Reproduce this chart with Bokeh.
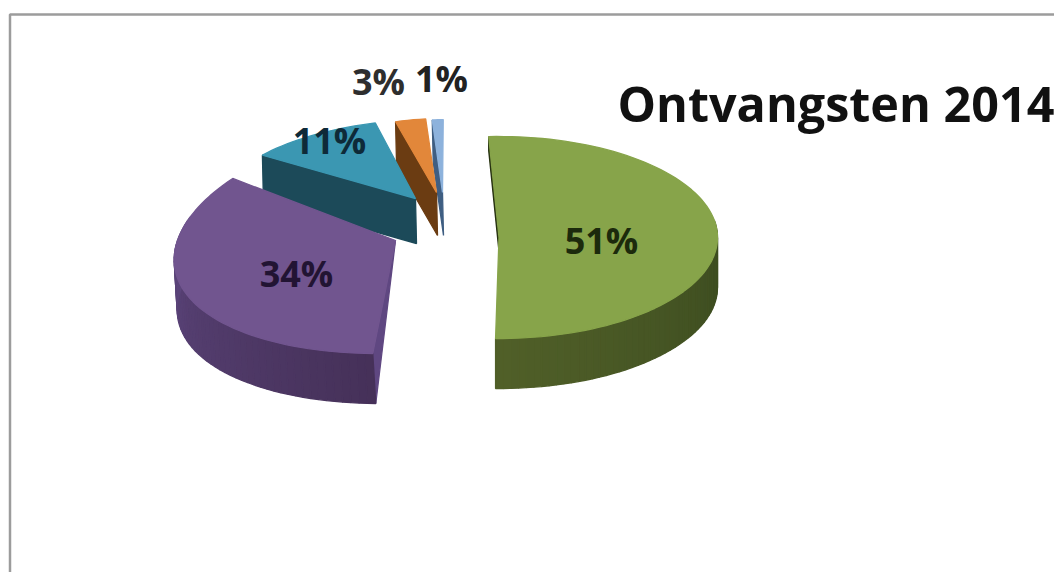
import math
from bokeh.plotting import figure
from bokeh.models import ColumnDataSource, Range1d
from bokeh.core.properties import value
from bokeh.embed import file_html
from bokeh.resources import INLINE

# data
title_text = "Ontvangsten 2014"
values = [51, 34, 11, 3, 1]
labels = ["51%", "34%", "11%", "3%", "1%"]

# styles
top_colors = ["#87a44a", "#71558f", "#3b97b2", "#e2873a", "#8db2dc"]
cut_colors = ["#26310f", "#5f4781", "#1c4a59", "#6b3c12", "#3f5e82"]
rim_colors = [("#3a4a1f", "#505f28"), ("#463159", "#5e477f"), ("#1c4a59", "#1c4a59"),
              ("#6b3c12", "#6b3c12"), ("#3f5e82", "#3f5e82")]
label_colors = ["#1c2a0c", "#221433", "#0e2a38", "#2e2e2e", "#222222"]

# layout in reference pixels: apex x, apex y, radius x, radius y, shear, depth x, depth y, taper
geom = [
    (498.5, 237, 218.5, 101, 0, 0, 50, 0),
    (395, 240, 218, 113, -19, 3, 50, 0.09),
    (415, 198, 195, 79, -18, 1, 45, 0),
    (436, 192, 162, 74, -7, 1, 43, 0),
    (442, 192, 175, 73, -9, 1, 43, 0),
]
label_pos = [(601, 240), (296, 273), (329, 140), (378, 81), (441, 78)]
START = -2.7
LABEL_SIZE = "36px"
TITLE_SIZE = "48.5px"
TITLE_POS = (617, 102)
W, H = 1054, 572


def pt(g, theta):
    ax, ay, rx, ry, sx, _, _, kx = g
    t = math.radians(theta)
    u, v = math.sin(t), -math.cos(t)
    return ax + rx * u * (1 + kx * v) + sx * v, ay + ry * v


def mix(c1, c2, f):
    a = [int(c1[i:i + 2], 16) for i in (1, 3, 5)]
    b = [int(c2[i:i + 2], 16) for i in (1, 3, 5)]
    return "#%02x%02x%02x" % tuple(round(x + (y - x) * f) for x, y in zip(a, b))


total = sum(values)
angles, a = [], START
for val in values:
    angles.append((a, a + 360 * val / total))
    a += 360 * val / total

polys = {"x": [], "y": [], "c": []}


def add(xs, ys, c):
    polys["x"].append(xs)
    polys["y"].append(ys)
    polys["c"].append(c)


# back slices first, so that nearer ones overlap them
for i in (4, 3, 2, 1, 0):
    g = geom[i]
    a0, a1 = angles[i]
    ax, ay, _, _, _, dx, dy, _ = g
    p0 = pt(g, a0)

    # cut faces
    if i == 0:
        add([p0[0], ax, ax, p0[0]], [p0[1], ay, ay + 14, p0[1] + 14], cut_colors[i])
    elif i == 1:
        add([ax, p0[0], p0[0] + dx], [ay, p0[1], p0[1] + dy], cut_colors[i])
    else:
        add([p0[0], ax, ax + dx, p0[0] + dx], [p0[1], ay, ay + dy, p0[1] + dy], cut_colors[i])

    # front rim, shaded along the arc
    lo, hi = max(a0, 80), min(a1, 282)
    if hi > lo:
        n = max(2, int((hi - lo) / 2))
        for k in range(n):
            t0 = lo + (hi - lo) * k / n
            t1 = lo + (hi - lo) * (k + 1) / n
            q0, q1 = pt(g, t0), pt(g, t1)
            add([q0[0], q1[0], q1[0] + dx, q0[0] + dx],
                [q0[1], q1[1], q1[1] + dy, q0[1] + dy],
                mix(rim_colors[i][0], rim_colors[i][1], k / (n - 1)))

    # top face
    n = max(4, int((a1 - a0) / 2))
    arc = [pt(g, a0 + (a1 - a0) * k / n) for k in range(n + 1)]
    add([ax] + [q[0] for q in arc], [ay] + [q[1] for q in arc], top_colors[i])

p = figure(width=W, height=H, x_range=Range1d(0, W), y_range=Range1d(H, 0),
           toolbar_location=None, output_backend="svg", min_border=0,
           x_axis_location=None, y_axis_location=None, outline_line_color=None,
           background_fill_color="#ffffff", border_fill_color="#ffffff")
p.grid.visible = False

# chart frame
p.line([9.5, 9.5, W], [H, 14, 14], line_color="#9c9c9c", line_width=2.5)

src = ColumnDataSource(polys)
p.patches("x", "y", source=src, fill_color="c", line_color="c", line_width=1.3)

for txt, (x, y), col in zip(labels, label_pos, label_colors):
    p.text([x], [y], text=[txt], text_font=value("Open Sans"), text_font_style="bold",
           text_font_size=LABEL_SIZE, text_align="center", text_baseline="middle", text_color=col)

p.text([TITLE_POS[0]], [TITLE_POS[1]], text=[title_text], text_font=value("Open Sans"),
       text_font_style="bold", text_font_size=TITLE_SIZE, text_align="left",
       text_baseline="middle", text_color="#111111")

open("out.html", "w").write(file_html(p, INLINE))
